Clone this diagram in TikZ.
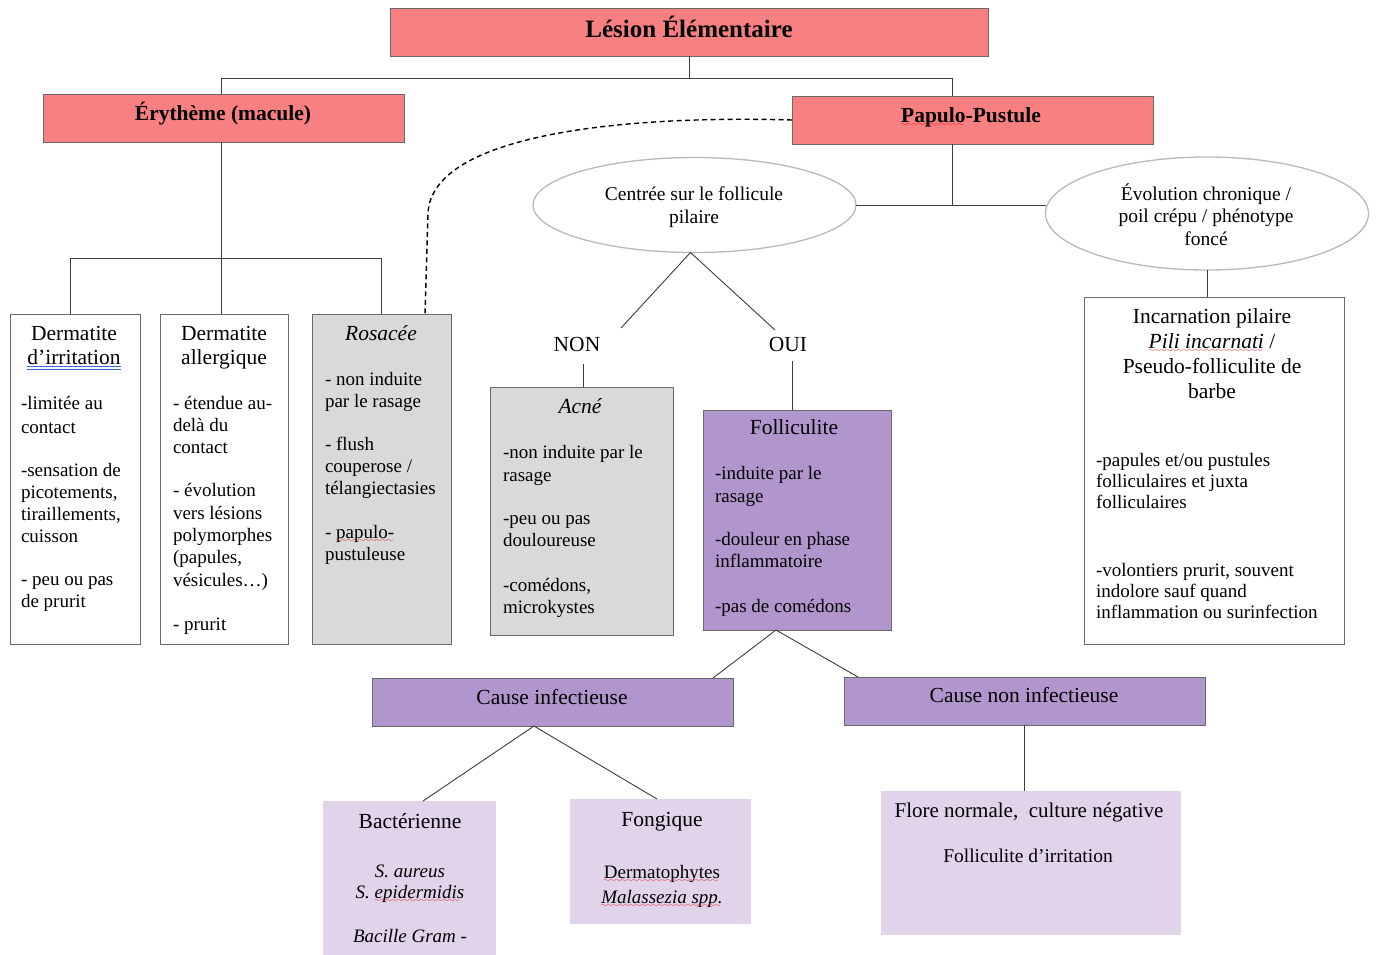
\documentclass[tikz,border=0pt]{standalone}
\usepackage{fontspec}
\setmainfont{Liberation Serif}
\usetikzlibrary{shapes.geometric,calc}
\definecolor{salmon}{RGB}{249,128,128}
\definecolor{purp}{RGB}{177,150,205}
\definecolor{lav}{RGB}{224,211,234}
\definecolor{lgray}{RGB}{217,217,217}
\definecolor{bord}{RGB}{105,105,105}
\definecolor{connc}{RGB}{60,60,60}
\definecolor{ellb}{RGB}{185,185,185}
\definecolor{spellblue}{RGB}{60,100,220}
\definecolor{spellred}{RGB}{235,20,20}
\font\wavefont=lasy8
\newcommand\redwave[1]{\setbox0\hbox{#1}\rlap{\copy0}\textcolor{spellred}{\lower4pt\hbox to\wd0{\leaders\hbox{\wavefont\char58}\hfil}}}
\newcommand\bluedl[1]{\setbox0\hbox{#1}\rlap{\copy0}\textcolor{spellblue}{\rlap{\lower3pt\hbox{\vrule width\wd0 height .7pt depth 0pt}}\lower5.2pt\hbox{\vrule width\wd0 height .7pt depth 0pt}}}
\newcommand\mlines[2]{\begin{tabular}[t]{@{}#1@{}}#2\end{tabular}}
\tikzset{
  box/.style={draw=bord, line width=1pt, anchor=north west, inner sep=0pt, outer sep=0pt},
  redbox/.style={box, fill=salmon},
  purbox/.style={box, fill=purp},
  lavbox/.style={box, draw=none, fill=lav},
  ell/.style={ellipse, draw=ellb, line width=1.3pt, fill=white, inner sep=0pt, outer sep=0pt},
  conn/.style={draw=connc, line width=0.9pt},
  txt/.style={inner sep=0pt, outer sep=0pt, anchor=base west, font=\fontsize{19}{22}\selectfont},
  ttl/.style={inner sep=0pt, outer sep=0pt, anchor=base, font=\fontsize{21.5}{24}\selectfont},
  bttl/.style={inner sep=0pt, outer sep=0pt, anchor=base, font=\bfseries\fontsize{21.5}{24}\selectfont},
}
\begin{document}
\begin{tikzpicture}[x=1pt, y=-1pt]
\useasboundingbox (0,0) rectangle (1381,954);
% boxes
\node[redbox, minimum width=598pt, minimum height=48pt] (title) at (390,8) {};
\node[redbox, minimum width=361pt, minimum height=48pt] (ery) at (43,94) {};
\node[redbox, minimum width=361pt, minimum height=48pt] (pap) at (792,96) {};
\node[box, fill=white, minimum width=130pt, minimum height=330pt] (b1) at (10,314) {};
\node[box, fill=white, minimum width=128pt, minimum height=330pt] (b2) at (160,314) {};
\node[box, fill=lgray, minimum width=139pt, minimum height=330pt] (b3) at (312,314) {};
\node[box, fill=lgray, minimum width=183pt, minimum height=248pt] (acne) at (490,387) {};
\node[purbox, minimum width=188pt, minimum height=220pt] (fol) at (703,410) {};
\node[box, fill=white, minimum width=260pt, minimum height=347pt] (inc) at (1084,297) {};
\node[purbox, minimum width=361pt, minimum height=48pt] (ci) at (372,678) {};
\node[purbox, minimum width=361pt, minimum height=48pt] (cni) at (844,677) {};
\node[lavbox, minimum width=173pt, minimum height=160pt] (bac) at (323,801) {};
\node[lavbox, minimum width=181pt, minimum height=125pt] (fon) at (570,799) {};
\node[lavbox, minimum width=300pt, minimum height=144pt] (flo) at (881,791) {};
\node[ell, minimum width=323pt, minimum height=95pt] (e1) at (694.5,205) {};
\node[ell, minimum width=323pt, minimum height=113pt] (e2) at (1207,213.5) {};
% connectors
\coordinate (j1) at (689,78);
\draw[conn] (title.south) -- (j1);
\draw[conn] ($(ery.north)+(-2.5,0)$) |- (j1);
\draw[conn] (j1) -| ($(pap.north)+(-20.5,0)$);
\coordinate (ev) at ($(ery.south)+(-2,0)$);
\draw[conn] (ev) -- (ev |- b2.north);
\coordinate (b1top) at ($(b1.north)+(-5,0)$);
\draw[conn] (b1top) -- ++(0,-56) -| (b3.north);
\draw[draw=black, line width=1.4pt, dash pattern=on 5pt off 3.5pt] (pap.west) .. controls (620,115) and (432,135) .. (428,213) -- ($(b3.north east)+(-26,0)$);
\coordinate (pv) at ($(pap.south)+(-20.5,0)$);
\draw[conn] (pv) -- (pv |- e1.east);
\draw[conn] (e1.east) -- (e1.east -| e2.west);
\draw[conn] (e2.south) -- (e2.south |- inc.north);
\coordinate (nonend) at (621,328);
\coordinate (ouiend) at (775,330);
\draw[conn] (nonend) -- ($(e1.south)+(-4,0)$) -- (ouiend);
\draw[conn] ($(acne.north)+(1.5,0)$) -- ++(0,-23);
\draw[conn] ($(fol.north)+(-5,0)$) -- ++(0,-49);
\draw[conn] ($(ci.north east)+(-20,0)$) -- ($(fol.south)+(-21,0)$) -- ($(cni.north west)+(14,0)$);
\draw[conn] ($(bac.north)+(13.5,0)$) -- ($(ci.south)+(-18.5,0)$) -- ($(fon.north)+(-3.5,0)$);
\draw[conn] (cni.south) -- (cni.south |- flo.north);
% texts
\node[bttl, font=\bfseries\fontsize{25}{28}\selectfont] (tt) at (689,37) {Lésion Élémentaire};
\node[bttl] (ert) at (223,120) {Érythème (macule)};
\node[bttl] (papt) at (971,122) {\redwave{Papulo}-Pustule};
\node[ttl] (b1t) at (74,340) {\mlines{c}{Dermatite\\\bluedl{d’irritation}}};
\node[txt] (b1b) at (21,409) {\mlines{l}{-limitée au\\[2pt]contact\\[21pt]-sensation de\\picotements,\\tiraillements,\\cuisson\\[21pt]- peu ou pas\\de prurit}};
\node[ttl] (b2t) at (224,340) {\mlines{c}{Dermatite\\allergique}};
\node[txt, font=\fontsize{19}{22.3}\selectfont] (b2b) at (173,409) {\mlines{l}{- étendue au-\\delà du\\contact\\[21pt]- évolution\\vers lésions\\polymorphes\\(papules,\\vésicules…)\\[22pt]- prurit}};
\node[ttl, font=\itshape\fontsize{21.5}{24}\selectfont] (b3t) at (381,340) {Rosacée};
\node[txt] (b3b) at (325,385) {\mlines{l}{- non induite\\par le rasage\\[21pt]- flush\\couperose /\\télangiectasies\\[22pt]- \redwave{papulo-}\\pustuleuse}};
\node[ttl, font=\fontsize{19.5}{23}\selectfont] (e1t) at (694,200) {\mlines{c}{Centrée sur le follicule\\pilaire}};
\node[ttl, font=\fontsize{19.5}{22.5}\selectfont] (e2t) at (1206,200) {\mlines{c}{Évolution chronique /\\poil crépu / phénotype\\foncé}};
\node[ttl] (non) at (577,351) {NON};
\node[ttl] (oui) at (788,351) {OUI};
\node[ttl, font=\itshape\fontsize{21.5}{24}\selectfont] (acnt) at (580,413) {Acné};
\node[txt] (acnb) at (503,458) {\mlines{l}{-non induite par le\\[1pt]rasage\\[21pt]-peu ou pas\\douloureuse\\[23pt]-comédons,\\microkystes}};
\node[ttl] (folt) at (794,434) {Folliculite};
\node[txt] (folb) at (715,479) {\mlines{l}{-induite par le\\[1pt]rasage\\[21pt]-douleur en phase\\inflammatoire\\[23pt]-pas de comédons}};
\node[ttl, font=\fontsize{21.5}{25}\selectfont] (inct) at (1212,323) {\mlines{c}{Incarnation pilaire\\{\itshape\redwave{Pili incarnati}} /\\Pseudo-folliculite de\\barbe}};
\node[txt, font=\fontsize{19}{21}\selectfont] (incb) at (1096,466) {\mlines{l}{-papules et/ou pustules\\folliculaires et juxta\\folliculaires\\[47pt]-volontiers prurit, souvent\\indolore sauf quand\\inflammation ou surinfection}};
\node[ttl] (cit) at (552,704) {Cause infectieuse};
\node[ttl] (cnit) at (1024,702) {Cause non infectieuse};
\node[ttl] (bact) at (410,828) {Bactérienne};
\node[ttl, font=\itshape\fontsize{19}{21}\selectfont] (bacb) at (410,877) {\mlines{c}{S. aureus\\S. \redwave{epidermidis}\\[23pt]Bacille Gram -}};
\node[ttl] (fonti) at (662,826) {Fongique};
\node[ttl, font=\fontsize{19}{22}\selectfont] (fonb) at (662,878) {\mlines{c}{\redwave{Dermatophytes}\\[3pt]{\itshape\redwave{Malassezia spp.}}}};
\node[ttl, font=\fontsize{21}{24}\selectfont] (flot) at (1029,817) {Flore normale,\ \ culture négative};
\node[ttl, font=\fontsize{19.5}{23}\selectfont] (flob) at (1028,862) {Folliculite d’irritation};
\end{tikzpicture}
\end{document}
